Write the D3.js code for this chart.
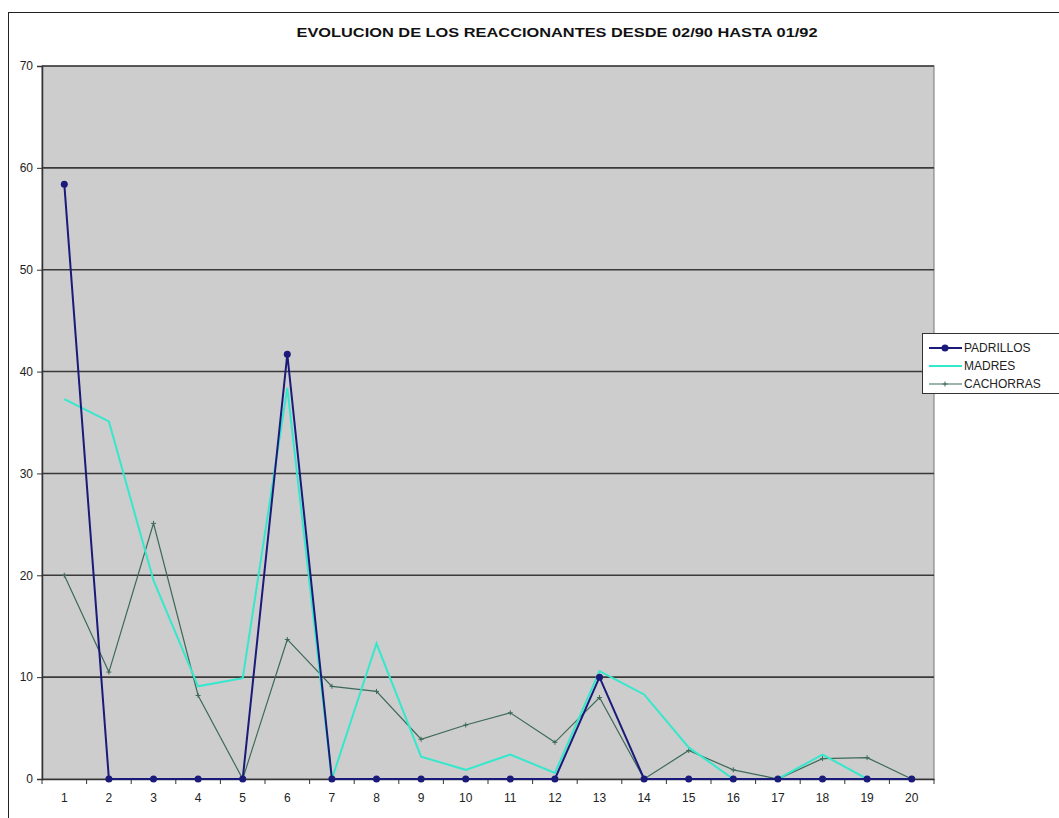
<!DOCTYPE html>
<html><head><meta charset="utf-8">
<script src="https://cdn.jsdelivr.net/npm/d3@7"></script>
<style>body{margin:0;background:#fff;overflow:hidden}svg{display:block}</style>
</head><body><svg id="c" width="1059" height="818"></svg>
<script>
const title = "EVOLUCION DE LOS REACCIONANTES DESDE 02/90 HASTA 01/92";
const categories = ["1","2","3","4","5","6","7","8","9","10","11","12","13","14","15","16","17","18","19","20"];
const padrillos = [58.4,0,0,0,0,41.7,0,0,0,0,0,0,10,0,0,0,0,0,0,0];
const madres    = [37.3,35.1,19.5,9.1,9.9,38.4,0,13.3,2.2,0.9,2.4,0.6,10.6,8.3,3.1,0,0,2.4,0,0];
const cachorras = [20,10.5,25.1,8.2,0,13.7,9.1,8.6,3.9,5.3,6.5,3.6,8,0,2.8,0.9,0,2,2.1,0];
const yTicks = [0,10,20,30,40,50,60,70];
const seriesNames = ["PADRILLOS","MADRES","CACHORRAS"];

const svg = d3.select("#c");
const L = 42, R = 934, T = 66, B = 779;
const x = d3.scaleBand().domain(categories).range([L, R]);
const y = d3.scaleLinear().domain([0, 70]).range([B, T]);
const cx = c => x(c) + x.bandwidth() / 2;

// outer chart border
svg.append("rect").attr("x", 8.5).attr("y", 12.5).attr("width", 1100).attr("height", 900)
  .attr("fill", "#fff").attr("stroke", "#222").attr("stroke-width", 1);

// title
svg.append("text").attr("x", 557).attr("y", 37).attr("text-anchor", "middle")
  .attr("font-family", "'Liberation Sans Narrow', 'Arial Narrow', sans-serif")
  .attr("font-weight", "bold").attr("font-size", 13).attr("fill", "#111")
  .attr("textLength", 521).attr("lengthAdjust", "spacingAndGlyphs").text(title);

// plot area
svg.append("rect").attr("x", L).attr("y", T).attr("width", R - L).attr("height", B - T)
  .attr("fill", "#cdcdcd").attr("stroke", "#777").attr("stroke-width", 1);

// gridlines
svg.append("g").selectAll("line").data(yTicks.filter(v => v > 0)).join("line")
  .attr("x1", L).attr("x2", R).attr("y1", d => y(d)).attr("y2", d => y(d))
  .attr("stroke", "#3a3a3a").attr("stroke-width", 1.6);

// y axis
const yAxis = svg.append("g").attr("transform", `translate(${L},0)`)
  .call(d3.axisLeft(y).tickValues(yTicks).tickSize(5).tickPadding(4));
yAxis.select(".domain").attr("stroke", "#333").attr("stroke-width", 1.5);
yAxis.selectAll(".tick line").attr("stroke", "#333");
yAxis.selectAll("text").attr("font-family", "'Liberation Sans Narrow', Arial, sans-serif")
  .attr("font-size", 12).attr("fill", "#222");

// x axis
const xAxis = svg.append("g").attr("transform", `translate(0,${B})`)
  .call(d3.axisBottom(x).tickSize(0).tickPadding(14));
xAxis.select(".domain").attr("stroke", "#333").attr("stroke-width", 1.5);
xAxis.selectAll("text").attr("font-family", "'Liberation Sans Narrow', Arial, sans-serif")
  .attr("font-size", 12).attr("fill", "#222");
// ticks between categories
const bounds = categories.map(c => x(c)).concat([R]);
svg.append("g").selectAll("line").data(bounds).join("line")
  .attr("x1", d => d).attr("x2", d => d).attr("y1", B).attr("y2", B + 5)
  .attr("stroke", "#333").attr("stroke-width", 1);

const line = d3.line().x((d, i) => cx(categories[i])).y(d => y(d));

// CACHORRAS
svg.append("path").datum(cachorras).attr("d", line).attr("fill", "none")
  .attr("stroke", "#3c6a58").attr("stroke-width", 1.2);
svg.append("g").selectAll("path").data(cachorras).join("path")
  .attr("d", (d, i) => `M${cx(categories[i]) - 2.5},${y(d)}h5M${cx(categories[i])},${y(d) - 2.5}v5`)
  .attr("stroke", "#3c6a58").attr("stroke-width", 1);

// MADRES
svg.append("path").datum(madres).attr("d", line).attr("fill", "none")
  .attr("stroke", "#35e8cc").attr("stroke-width", 2);

// PADRILLOS
svg.append("path").datum(padrillos).attr("d", line).attr("fill", "none")
  .attr("stroke", "#1a1a7a").attr("stroke-width", 2);
svg.append("g").selectAll("circle").data(padrillos).join("circle")
  .attr("cx", (d, i) => cx(categories[i])).attr("cy", d => y(d)).attr("r", 3.5)
  .attr("fill", "#1a1a7a");

// legend
const lg = svg.append("g");
lg.append("rect").attr("x", 922.5).attr("y", 333.5).attr("width", 140).attr("height", 60)
  .attr("fill", "#fff").attr("stroke", "#333");
const lcol = ["#1a1a7a", "#35e8cc", "#3c6a58"];
seriesNames.forEach((n, i) => {
  const ly = 348 + i * 18;
  lg.append("line").attr("x1", 929).attr("x2", 962).attr("y1", ly).attr("y2", ly)
    .attr("stroke", lcol[i]).attr("stroke-width", i === 2 ? 1.2 : 2);
  if (i === 0) lg.append("circle").attr("cx", 945).attr("cy", ly).attr("r", 3.5).attr("fill", lcol[0]);
  if (i === 2) lg.append("path").attr("d", `M942.5,${ly}h5M945,${ly - 2.5}v5`).attr("stroke", lcol[2]);
  lg.append("text").attr("x", 964).attr("y", ly + 4)
    .attr("font-family", "'Liberation Sans Narrow', Arial, sans-serif").attr("font-size", 12)
    .attr("fill", "#222").text(n);
});
</script></body></html>
